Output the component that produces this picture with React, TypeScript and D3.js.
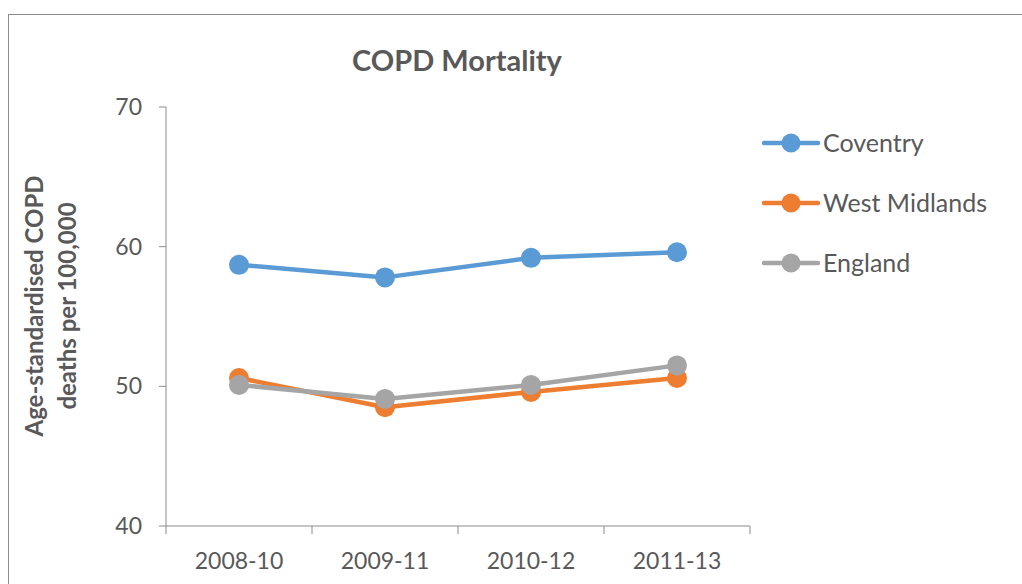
import React from "react";
import * as d3 from "d3";

const categories = ["2008-10", "2009-11", "2010-12", "2011-13"];
const seriesNames = ["Coventry", "West Midlands", "England"];
const coventry = [58.7, 57.8, 59.2, 59.6];
const westMidlands = [50.6, 48.5, 49.6, 50.6];
const england = [50.1, 49.1, 50.1, 51.5];
const yTicks = [40, 50, 60, 70];
const colors = ["#5B9BD5", "#ED7D31", "#A5A5A5"];

const W = 1022;
const H = 584;
const left = 166;
const right = 750;
const top = 107;
const bottom = 526;
const FONT = "Lato, 'Open Sans', sans-serif";

export default function App() {
  const x = d3.scaleBand<string>().domain(categories).range([left, right]);
  const y = d3.scaleLinear().domain([40, 70]).range([bottom, top]);
  const data = [coventry, westMidlands, england];
  const line = d3
    .line<number>()
    .x((_, i) => (x(categories[i]) as number) + x.bandwidth() / 2)
    .y((d) => y(d));
  const axisColor = "#8C8C8C";
  const textColor = "#595959";
  const tickXs = categories.map((c) => x(c) as number).concat([right]);

  return (
    <svg
      width={W}
      height={H}
      style={{ position: "absolute", left: 0, top: 0 }}
      fontFamily={FONT}
    >
      <rect x={0} y={0} width={W} height={H} fill="#fff" />
      <rect x={8.5} y={14.5} width={W + 10} height={H + 10} fill="none" stroke="#8C8C8C" strokeWidth={1} />
      <text x={457} y={71} textAnchor="middle" fontSize={29} fontWeight="bold" fill={textColor}>
        COPD Mortality
      </text>
      {/* y axis */}
      <line x1={left} x2={left} y1={top} y2={bottom} stroke={axisColor} />
      {yTicks.map((t) => (
        <g key={t}>
          <line x1={left - 7} x2={left} y1={y(t)} y2={y(t)} stroke={axisColor} />
          <text x={left - 24} y={y(t)} dy="0.35em" textAnchor="end" fontSize={23} fill={textColor}>
            {t}
          </text>
        </g>
      ))}
      {/* x axis */}
      <line x1={left} x2={right} y1={bottom} y2={bottom} stroke={axisColor} />
      {tickXs.map((tx, i) => (
        <line key={i} x1={tx} x2={tx} y1={bottom} y2={bottom + 8} stroke={axisColor} />
      ))}
      {categories.map((c) => (
        <text
          key={c}
          x={(x(c) as number) + x.bandwidth() / 2}
          y={569}
          textAnchor="middle"
          fontSize={23}
          fill={textColor}
        >
          {c}
        </text>
      ))}
      {/* y title */}
      <text
        transform={`translate(43,306) rotate(-90)`}
        textAnchor="middle"
        fontSize={24}
        fontWeight="bold"
        fill={textColor}
      >
        <tspan x={0} dy={0}>Age-standardised COPD</tspan>
        <tspan x={0} dy={33}>deaths per 100,000</tspan>
      </text>
      {/* series */}
      {data.map((vals, si) => (
        <g key={si}>
          <path d={line(vals) || ""} fill="none" stroke={colors[si]} strokeWidth={4.5} strokeLinejoin="round" />
          {vals.map((v, i) => (
            <circle
              key={i}
              cx={(x(categories[i]) as number) + x.bandwidth() / 2}
              cy={y(v)}
              r={10}
              fill={colors[si]}
            />
          ))}
        </g>
      ))}
      {/* legend */}
      {seriesNames.map((n, i) => {
        const ly = 143 + i * 60;
        return (
          <g key={n}>
            <line x1={764} x2={818} y1={ly} y2={ly} stroke={colors[i]} strokeWidth={4.5} strokeLinecap="round" />
            <circle cx={791} cy={ly} r={9.5} fill={colors[i]} />
            <text x={823} y={ly} dy="0.35em" fontSize={25} fill={textColor}>
              {n}
            </text>
          </g>
        );
      })}
    </svg>
  );
}
